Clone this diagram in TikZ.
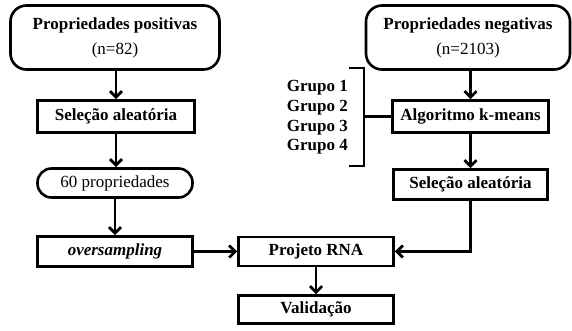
\documentclass[tikz,border=0pt]{standalone}
\usepackage{fontspec}
\setmainfont{Liberation Serif}
\usetikzlibrary{arrows.meta}
\begin{document}
\begin{tikzpicture}[x=1pt,y=-1pt,
  every node/.style={font=\fontsize{17}{25}\selectfont, align=center, inner sep=0pt},
  box/.style={draw, line width=2.6pt, font=\fontsize{17}{25}\selectfont\bfseries},
  rbox/.style={draw, line width=2.6pt, rounded corners=16pt},
  conn/.style={line width=2.8pt, -{Straight Barb[length=6pt,width=12pt,line width=2.8pt]}},
  brk/.style={line width=2.8pt}
]
\useasboundingbox (0,0) rectangle (572,330);
\node[rbox, minimum width=209pt, minimum height=64pt] (pos) at (115,37.5)
  {\textbf{Propriedades positivas}\\(n=82)};
\node[box, minimum width=157pt, minimum height=32pt] (sel1) at (116,116.5) {Seleção aleatória};
\node[rbox, rounded corners=14pt, minimum width=155pt, minimum height=29pt] (p60) at (115,183) {60 propriedades};
\node[box, minimum width=155pt, minimum height=30pt] (over) at (115,251.5) {\textit{oversampling}};
\node[box, minimum width=155pt, minimum height=29pt] (rna) at (316,251.5) {Projeto RNA};
\node[box, minimum width=155pt, minimum height=28pt] (val) at (316,309.5) {Validação};
\node[rbox, minimum width=204pt, minimum height=64pt] (neg) at (468,37.5)
  {\textbf{Propriedades negativas}\\(n=2103)};
\node[box, minimum width=156pt, minimum height=32pt] (km) at (470.5,116.5) {Algoritmo k-means};
\node[box, minimum width=154pt, minimum height=30pt] (sel2) at (470.5,184.5) {Seleção aleatória};
\node[anchor=east, font=\fontsize{17}{20}\selectfont\bfseries] (g1) at (348,88) {Grupo 1};
\node[anchor=east, font=\fontsize{17}{20}\selectfont\bfseries] (g2) at (348,108) {Grupo 2};
\node[anchor=east, font=\fontsize{17}{20}\selectfont\bfseries] (g3) at (348,128) {Grupo 3};
\node[anchor=east, font=\fontsize{17}{20}\selectfont\bfseries] (g4) at (348,147) {Grupo 4};
\coordinate (bt) at (364,68);
\coordinate (bb) at (364,166);
\coordinate (bm) at (364,116.5);
\draw[brk] (349,68) -- (bt) -- (bb) -- (349,166);
\draw[brk] (bm) -- (km.west);
\draw[conn] (pos.south -| sel1.north) -- (sel1.north);
\draw[conn] (sel1.south) -- (sel1.south |- p60.north);
\draw[conn] (p60.south) -- (over.north);
\draw[conn] (over.east) -- (rna.west);
\draw[conn] (rna.south) -- (val.north);
\draw[conn] (neg.south -| km.north) -- (km.north);
\draw[conn] (km.south) -- (sel2.north);
\draw[conn] (sel2.south) |- (rna.east);
\end{tikzpicture}
\end{document}
